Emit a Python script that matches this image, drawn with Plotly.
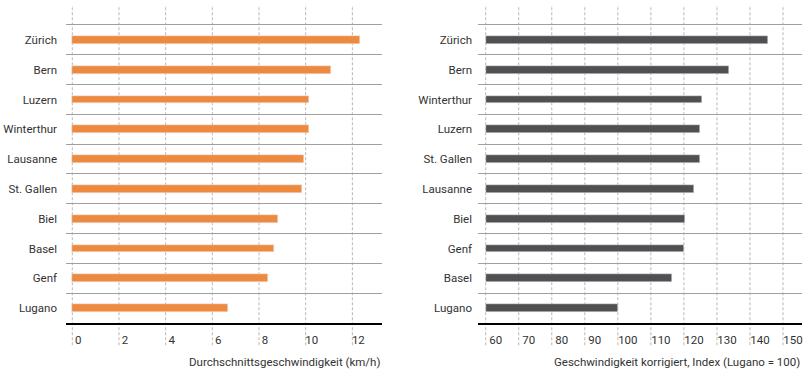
import plotly.graph_objects as go

# Left panel: average speed (km/h)
cities_left = ["Zürich", "Bern", "Luzern", "Winterthur", "Lausanne",
               "St. Gallen", "Biel", "Basel", "Genf", "Lugano"]
speed_kmh = [12.33, 11.09, 10.14, 10.14, 9.93, 9.85, 8.82, 8.65, 8.39, 6.67]
left_ticks = [0, 2, 4, 6, 8, 10, 12]
left_title = "Durchschnittsgeschwindigkeit (km/h)"

# Right panel: corrected speed index (Lugano = 100)
cities_right = ["Zürich", "Bern", "Winterthur", "Luzern", "St. Gallen",
                "Lausanne", "Biel", "Genf", "Basel", "Lugano"]
speed_index = [145.6, 133.6, 125.6, 125.0, 125.0, 123.2, 120.4, 120.1, 116.3, 100.0]
right_ticks = [60, 70, 80, 90, 100, 110, 120, 130, 140, 150]
right_title = "Geschwindigkeit korrigiert, Index (Lugano = 100)"
index_base = 60

ORANGE = "#EE8A40"
DARK = "#505050"
TEXT = "#333333"
FONT = "Roboto"

fig = go.Figure()
fig.add_trace(go.Bar(x=speed_kmh, y=cities_left, orientation="h", marker_color=ORANGE,
                     width=0.26, xaxis="x", yaxis="y", showlegend=False))
fig.add_trace(go.Bar(x=[v - index_base for v in speed_index], y=cities_right, base=index_base,
                     orientation="h", marker_color=DARK,
                     width=0.26, xaxis="x2", yaxis="y2", showlegend=False))

n = len(cities_left)
yrange = [n - 0.5, -1.17]

common_y = dict(type="category", range=yrange, tickson="boundaries", showgrid=True,
                gridcolor="#a0a0a0", gridwidth=1, ticks="", zeroline=False,
                showline=False, tickfont=dict(family=FONT, size=11.5, color=TEXT))
fig.update_layout(
    width=808, height=371,
    margin=dict(l=0, r=0, t=0, b=0),
    paper_bgcolor="white", plot_bgcolor="white",
    font=dict(family=FONT, color=TEXT),
    bargap=0,
    xaxis=dict(domain=[66/808, 382/808], range=[-0.27, 13.27], tickvals=left_ticks,
               showgrid=False, zeroline=False, showline=True, linecolor="black", linewidth=2,
               ticks="", ticklabelshift=6, ticklabelstandoff=5,
               tickfont=dict(family=FONT, size=11.5, color=TEXT), anchor="y"),
    yaxis=dict(domain=[1 - 323/371, 1 - 5/371], anchor="x", ticklabelstandoff=8, **common_y),
    xaxis2=dict(domain=[478/808, 802/808], range=[57.67, 155.75], tickvals=right_ticks,
                showgrid=False, zeroline=False, showline=True, linecolor="black", linewidth=2,
                ticks="", ticklabelshift=10, ticklabelstandoff=5,
                tickfont=dict(family=FONT, size=11.5, color=TEXT), anchor="y2"),
    yaxis2=dict(domain=[1 - 323/371, 1 - 5/371], anchor="x2", ticklabelstandoff=5, **common_y),
)

# dotted vertical gridlines extending through tick label area
for xr, ticks in (("x", left_ticks), ("x2", right_ticks)):
    for v in ticks:
        fig.add_shape(type="line", xref=xr, yref=("y domain" if xr == "x" else "y2 domain"),
                      x0=v, x1=v, y0=-0.07, y1=1,
                      line=dict(color="#b8b8b8", width=1, dash="3px,2px"), layer="below")

fig.add_annotation(text=left_title, xref="x domain", yref="paper", x=1, y=1 - 362/371,
                   xanchor="right", yanchor="middle", showarrow=False,
                   font=dict(family=FONT, size=11.5, color=TEXT))
fig.add_annotation(text=right_title, xref="x2 domain", yref="paper", x=1, y=1 - 362/371,
                   xanchor="right", yanchor="middle", showarrow=False,
                   font=dict(family=FONT, size=11.5, color=TEXT))

fig.write_html("out.html", config={"displayModeBar": False},
               post_script="document.body.style.margin='0';")
